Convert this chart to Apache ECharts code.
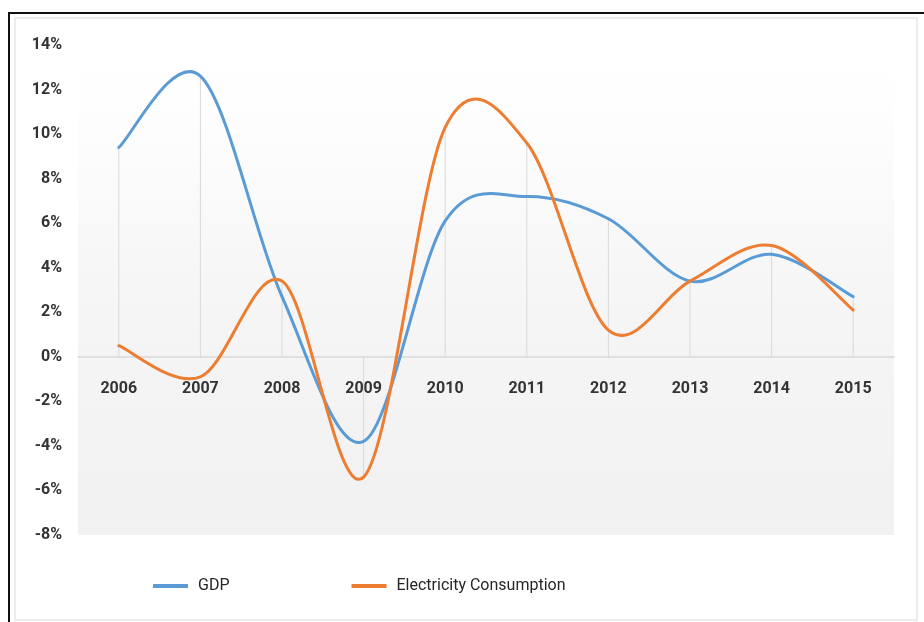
<!DOCTYPE html>
<html>
<head>
<meta charset="utf-8">
<title>GDP and Electricity Consumption Growth</title>
<script src="https://cdn.jsdelivr.net/npm/echarts@6/dist/echarts.min.js"></script>
<style>
  html, body { margin: 0; padding: 0; background: #ffffff; }
  #chart { width: 924px; height: 622px; }
</style>
</head>
<body>
<div id="chart"></div>
<script>
// Annual growth rates, %
const years = ['2006', '2007', '2008', '2009', '2010', '2011', '2012', '2013', '2014', '2015'];
const gdp = [9.4, 12.6, 2.7, -3.8, 6.1, 7.2, 6.2, 3.4, 4.6, 2.7];
const electricity = [0.5, -0.9, 3.4, -5.4, 10.3, 9.6, 1.2, 3.4, 5.0, 2.1];

// Value axis range and step
const yMin = -8;
const yMax = 14;
const yStep = 2;

// Drop line for each year: from the axis to the point farthest from zero
const dropLines = years.map((_, i) =>
  Math.abs(gdp[i]) >= Math.abs(electricity[i]) ? gdp[i] : electricity[i]);

const labelFont = 'Roboto, "DejaVu Sans", sans-serif';
const gridTop = 45;
const gridBottom = 87;
const chartHeight = 622;
const gridHeight = chartHeight - gridTop - gridBottom;
// distance of the zero line above the bottom of the plot
const zeroLift = gridHeight * (0 - yMin) / (yMax - yMin);

// Smoothed curve through the points (Catmull-Rom style cubic segments)
function smoothCurve(values, color) {
  return function (params, api) {
    if (params.dataIndex !== 0) return null;
    const pts = values.map((v, i) => api.coord([i, v]));
    const n = pts.length;
    let d = 'M' + pts[0][0] + ',' + pts[0][1];
    for (let i = 0; i < n - 1; i++) {
      const p0 = pts[Math.max(i - 1, 0)];
      const p1 = pts[i];
      const p2 = pts[i + 1];
      const p3 = pts[Math.min(i + 2, n - 1)];
      const c1x = p1[0] + (p2[0] - p0[0]) / 6;
      const c1y = p1[1] + (p2[1] - p0[1]) / 6;
      const c2x = p2[0] - (p3[0] - p1[0]) / 6;
      const c2y = p2[1] - (p3[1] - p1[1]) / 6;
      d += ' C' + c1x + ',' + c1y + ' ' + c2x + ',' + c2y + ' ' + p2[0] + ',' + p2[1];
    }
    return {
      type: 'path',
      shape: { pathData: d },
      style: { fill: 'none', stroke: color, lineWidth: 3, lineCap: 'round', lineJoin: 'round' }
    };
  };
}

const chart = echarts.init(document.getElementById('chart'), null, { renderer: 'canvas' });

chart.setOption({
  backgroundColor: '#ffffff',
  animation: false,
  graphic: [
    // frame lines
    { type: 'rect', shape: { x: 8, y: 12, width: 916, height: 2 }, style: { fill: '#111111' }, silent: true },
    { type: 'rect', shape: { x: 8, y: 12, width: 2, height: 610 }, style: { fill: '#111111' }, silent: true },
    { type: 'rect', shape: { x: 15, y: 18, width: 902, height: 602 },
      style: { fill: 'none', stroke: '#e6e6e6', lineWidth: 1.5 }, silent: true }
  ],
  grid: {
    left: 78,
    right: 30,
    top: gridTop,
    bottom: gridBottom,
    show: true,
    borderWidth: 0,
    backgroundColor: {
      type: 'linear', x: 0, y: 0, x2: 0, y2: 1,
      colorStops: [
        { offset: 0, color: '#ffffff' },
        { offset: 0.12, color: '#fefefe' },
        { offset: 0.55, color: '#f5f5f5' },
        { offset: 1, color: '#f1f1f1' }
      ]
    }
  },
  legend: {
    data: [
      { name: 'GDP', itemStyle: { color: '#5b9bd5' } },
      { name: 'Electricity Consumption', itemStyle: { color: '#ed7d31' } }
    ],
    left: 148,
    top: 573,
    icon: 'rect',
    itemWidth: 35,
    itemHeight: 4,
    itemGap: 122,
    textStyle: {
      fontFamily: labelFont,
      fontSize: 16,
      color: '#262626',
      padding: [0, 0, 0, 5]
    }
  },
  xAxis: {
    type: 'category',
    data: years,
    boundaryGap: true,
    position: 'bottom',
    offset: -zeroLift,
    axisLine: { onZero: false, lineStyle: { color: '#d9d9d9', width: 1.5 } },
    axisTick: { show: false },
    splitLine: { show: false },
    axisLabel: {
      margin: 24,
      fontFamily: labelFont,
      fontWeight: 'bold',
      fontSize: 16,
      color: '#333333'
    }
  },
  yAxis: {
    type: 'value',
    min: yMin,
    max: yMax,
    interval: yStep,
    axisLine: { show: false },
    axisTick: { show: false },
    splitLine: { show: false },
    axisLabel: {
      margin: 16,
      formatter: '{value}%',
      fontFamily: labelFont,
      fontWeight: 'bold',
      fontSize: 16,
      color: '#333333'
    }
  },
  series: [
    {
      name: 'drop lines',
      type: 'bar',
      data: dropLines,
      barWidth: 1,
      itemStyle: { color: '#d9d9d9' },
      silent: true,
      z: 1
    },
    {
      name: 'GDP',
      type: 'custom',
      data: gdp.map((v, i) => [i, v]),
      renderItem: smoothCurve(gdp, '#5b9bd5'),
      itemStyle: { color: '#5b9bd5' },
      silent: true,
      z: 3
    },
    {
      name: 'Electricity Consumption',
      type: 'custom',
      data: electricity.map((v, i) => [i, v]),
      renderItem: smoothCurve(electricity, '#ed7d31'),
      itemStyle: { color: '#ed7d31' },
      silent: true,
      z: 4
    }
  ]
});
</script>
</body>
</html>
